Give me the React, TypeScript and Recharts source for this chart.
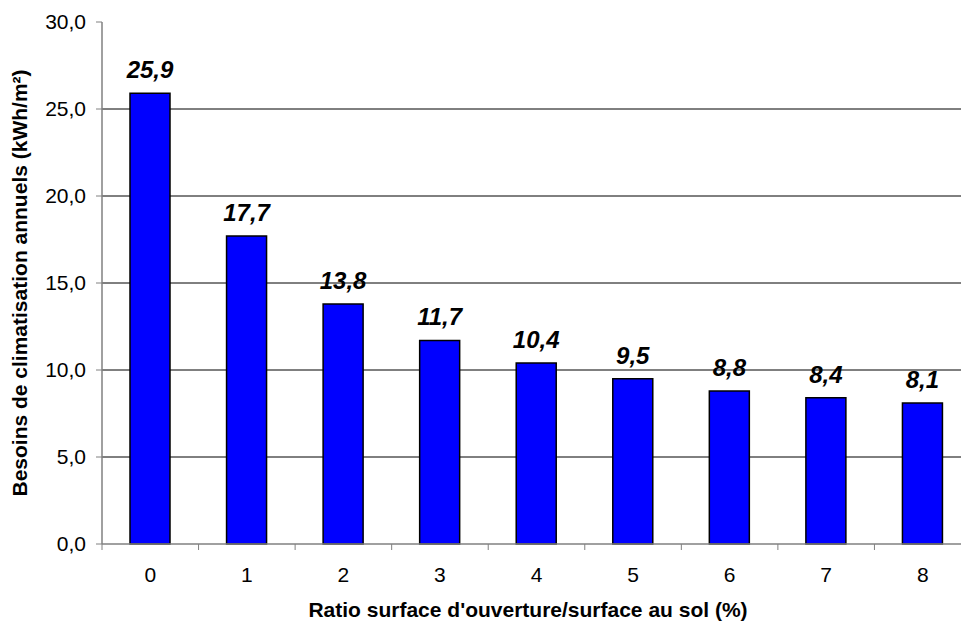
import React from "react";
import { BarChart, Bar, XAxis, YAxis, CartesianGrid, LabelList } from "recharts";

const categories = ["0", "1", "2", "3", "4", "5", "6", "7", "8"];
const besoins = [25.9, 17.7, 13.8, 11.7, 10.4, 9.5, 8.8, 8.4, 8.1];
const yTicks = [0, 5, 10, 15, 20, 25, 30];
const gridValues = [5, 10, 15, 20, 25];
const xTitle = "Ratio surface d'ouverture/surface au sol (%)";
const yTitle = "Besoins de climatisation annuels (kWh/m²)";

const data = categories.map((c, i) => ({ cat: c, val: besoins[i] }));

const FONT = "'Liberation Sans', Arial, sans-serif";
const fmt = (v: number) => v.toFixed(1).replace(".", ",");

const X_TICK_SIZE = 6;
const X_TICK_MARGIN = 17;

const XTick = (props: any) => {
  const { x, y, payload, width } = props;
  const half =
    payload && typeof payload.offset === "number" && payload.offset > 0
      ? payload.offset
      : width / (2 * categories.length);
  const axisY = y - X_TICK_SIZE - X_TICK_MARGIN;
  return (
    <g>
      <line x1={x - half} x2={x - half} y1={axisY} y2={axisY + X_TICK_SIZE} stroke="#808080" strokeWidth={1} />
      <text x={x} y={y} dy="0.71em" textAnchor="middle" fill="#000" fontFamily={FONT} fontSize={21}>
        {payload.value}
      </text>
    </g>
  );
};

const DataLabel = (props: any) => {
  const { x, y, width, value } = props;
  return (
    <text
      x={x + width / 2}
      y={y - 15}
      textAnchor="middle"
      fill="#000"
      fontFamily={FONT}
      fontSize={24}
      fontWeight="bold"
      fontStyle="italic"
    >
      {fmt(value)}
    </text>
  );
};

export default function App() {
  return (
    <div style={{ position: "fixed", left: 0, top: 0, width: 961, height: 624, overflow: "hidden", background: "#fff" }}>
      <BarChart
        width={980}
        height={624}
        data={data}
        margin={{ top: 22, right: 9, left: 0, bottom: 0 }}
        barCategoryGap={0}
      >
        <CartesianGrid vertical={false} horizontalValues={gridValues} stroke="#000" strokeWidth={1} />
        <XAxis
          dataKey="cat"
          height={80}
          axisLine={{ stroke: "#808080", strokeWidth: 1.5 }}
          tickLine={false}
          tickSize={X_TICK_SIZE}
          tickMargin={X_TICK_MARGIN}
          tick={<XTick />}
          interval={0}
        />
        <YAxis
          width={102}
          domain={[0, 30]}
          ticks={yTicks}
          interval={0}
          tickFormatter={fmt}
          axisLine={{ stroke: "#808080", strokeWidth: 1.5 }}
          tickLine={{ stroke: "#808080" }}
          tickSize={6}
          tickMargin={10}
          tick={{ fill: "#000", fontFamily: FONT, fontSize: 21 }}
        />
        <Bar dataKey="val" fill="#0000FF" stroke="#000" strokeWidth={1.5} barSize={40} isAnimationActive={false}>
          <LabelList dataKey="val" content={<DataLabel />} />
        </Bar>
        <text
          x={20}
          y={283}
          transform="rotate(-90 20 283)"
          textAnchor="middle"
          dy="0.35em"
          fontFamily={FONT}
          fontSize={21}
          fontWeight="bold"
          fill="#000"
        >
          {yTitle}
        </text>
        <text x={528} y={617} textAnchor="middle" fontFamily={FONT} fontSize={21} fontWeight="bold" fill="#000">
          {xTitle}
        </text>
      </BarChart>
    </div>
  );
}
